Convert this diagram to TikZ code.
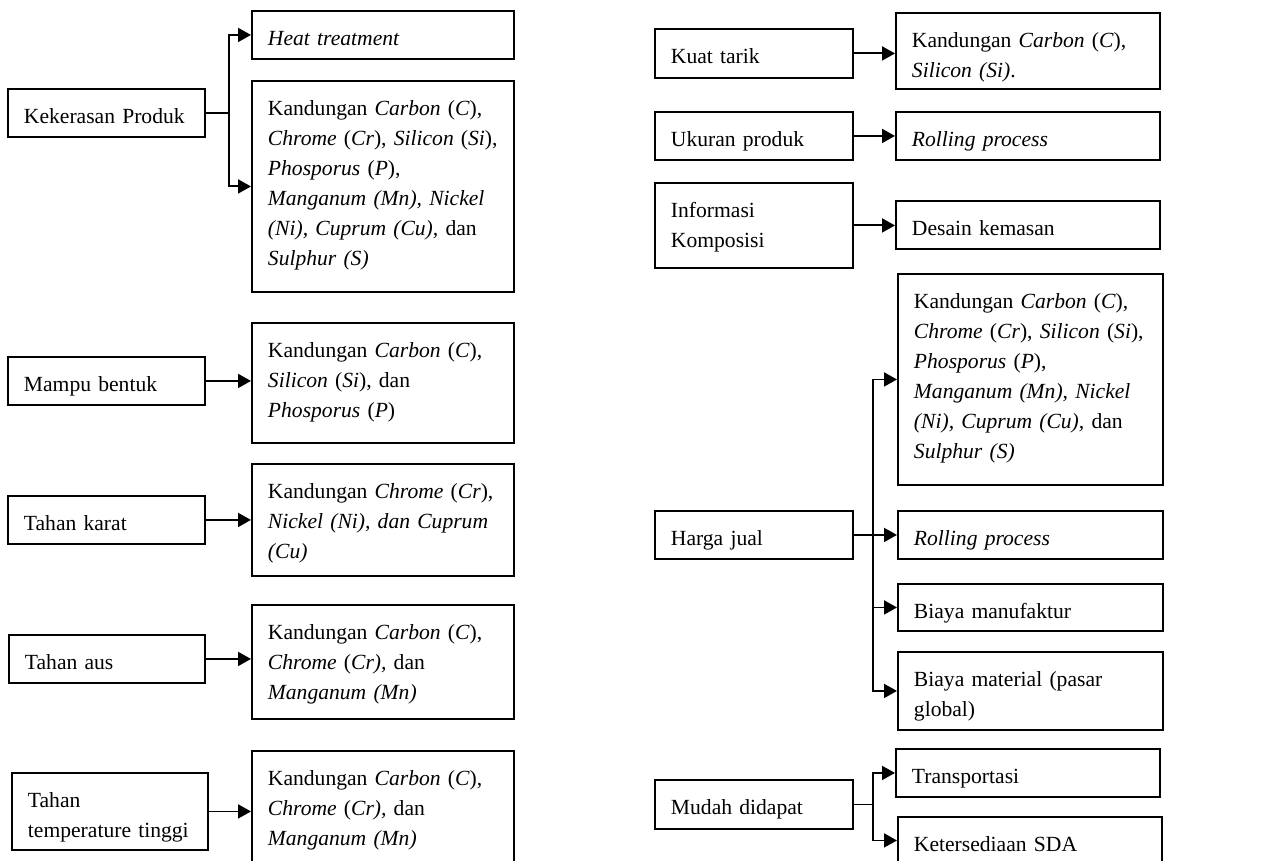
\documentclass[tikz,border=0pt]{standalone}
\usepackage{fontspec}
\setmainfont{Liberation Serif}
\usepackage{tikz}
\usetikzlibrary{arrows.meta,positioning}
\tikzset{
  box/.style  = {draw=black, line width=1.9pt, anchor=north west,
                 inner xsep=16pt, inner ysep=0pt, align=left,
                 text height=35pt, text depth=13pt,
                 font=\fontsize{21.6pt}{30pt}\selectfont},
  sbox/.style = {box, text width=165pt},
  tbox/.style = {box, text width=230pt},
  rbox/.style = {box, text width=233pt},
  arr/.style  = {-{Triangle[length=13pt,width=14pt]}, line width=1.9pt},
  link/.style = {line width=1.9pt},
}

\begin{document}
\begin{tikzpicture}[x=1pt, y=-1pt]
\useasboundingbox (0,0) rectangle (1277,861);

%% ── Left column: properties ───────────────────────────────
\node[sbox] (kek) at (7,88)   {Kekerasan Produk};
\node[sbox] (mb)  at (7,356)  {Mampu bentuk};
\node[sbox] (tk)  at (7,495)  {Tahan karat};
\node[sbox, text width=164pt] (ta) at (8,634) {Tahan aus};
\node[sbox, text width=164pt, text depth=42pt] (tt) at (11,772)
  {Tahan\\temperature tinggi};

%% ── Left column: factors ──────────────────────────────────
\node[tbox] (heat) at (251,10) {\textit{Heat treatment}};
\node[tbox, text depth=176pt] (kekc) at (251,80)
  {Kandungan \textit{Carbon} (\textit{C}),\\
   \textit{Chrome} (\textit{Cr}), \textit{Silicon} (\textit{Si}),\\
   \textit{Phosporus} (\textit{P}),\\
   \textit{Manganum (Mn), Nickel}\\
   \textit{(Ni), Cuprum (Cu),} dan\\
   \textit{Sulphur (S)}};
\node[tbox, text depth=85pt] (mbt) at (251,322)
  {Kandungan \textit{Carbon} (\textit{C}),\\
   \textit{Silicon} (\textit{Si}), dan\\
   \textit{Phosporus} (\textit{P})};
\node[tbox, text depth=77pt] (tkt) at (251,463)
  {Kandungan \textit{Chrome} (\textit{Cr}),\\
   \textit{Nickel (Ni), dan Cuprum}\\
   \textit{(Cu)}};
\node[tbox, text depth=79pt] (tat) at (251,604)
  {Kandungan \textit{Carbon} (\textit{C}),\\
   \textit{Chrome} (\textit{Cr),} dan\\
   \textit{Manganum (Mn)}};
\node[tbox, text depth=95pt] (ttt) at (251,750)
  {Kandungan \textit{Carbon} (\textit{C}),\\
   \textit{Chrome} (\textit{Cr),} dan\\
   \textit{Manganum (Mn)}};

%% ── Right column: properties ──────────────────────────────
\node[sbox, text width=166pt, text depth=14pt] (kt) at (654,28) {Kuat tarik};
\node[sbox, text width=166pt] (up) at (654,111) {Ukuran produk};
\node[sbox, text width=166pt, text depth=50pt] (ik) at (654,182)
  {Informasi\\Komposisi};
\node[sbox, text width=166pt] (hj) at (654,510) {Harga jual};
\node[sbox, text width=166pt, text depth=14pt] (md) at (654,779) {Mudah didapat};

%% ── Right column: factors ─────────────────────────────────
\node[rbox, text width=232pt, text depth=41pt] (ktt) at (895,12)
  {Kandungan \textit{Carbon} (\textit{C}),\\
   \textit{Silicon (Si)}.};
\node[rbox, text width=232pt] (upt) at (895,111) {\textit{Rolling process}};
\node[rbox, text width=232pt] (ikt) at (895,200) {Desain kemasan};
\node[rbox, text depth=176pt] (hjc) at (897,273)
  {Kandungan \textit{Carbon} (\textit{C}),\\
   \textit{Chrome} (\textit{Cr}), \textit{Silicon} (\textit{Si}),\\
   \textit{Phosporus} (\textit{P}),\\
   \textit{Manganum (Mn), Nickel}\\
   \textit{(Ni), Cuprum (Cu),} dan\\
   \textit{Sulphur (S)}};
\node[rbox] (hjr) at (897,510) {\textit{Rolling process}};
\node[rbox, text depth=12pt] (hjm) at (897,583) {Biaya manufaktur};
\node[rbox, text depth=43pt] (hjb) at (897,651)
  {Biaya material (pasar\\global)};
\node[rbox, text width=232pt] (mdt) at (895,748) {Transportasi};
\node[rbox, text width=232pt, text depth=12pt] (mds) at (897,816) {Ketersediaan SDA};

%% ── Arrows: left column ───────────────────────────────────
\draw[link] (kek.east) -- ++(23,0) coordinate (kekj);
\draw[arr] (kekj) |- (heat.west);
\draw[arr] (kekj) |- (kekc.west);
\draw[arr] (mb.east) -- (mb.east -| mbt.west);
\draw[arr] (tk.east) -- (tk.east -| tkt.west);
\draw[arr] (ta.east) -- (ta.east -| tat.west);
\draw[arr] (tt.east) -- (tt.east -| ttt.west);

%% ── Arrows: right column ──────────────────────────────────
\draw[arr] (kt.east) -- (kt.east -| ktt.west);
\draw[arr] (up.east) -- (upt.west);
\draw[arr] (ik.east) -- (ik.east -| ikt.west);
\draw[link] (hj.east) -- ++(19,0) coordinate (hjj);
\draw[arr] (hjj) |- (hjc.west);
\draw[arr] (hjj) |- (hjr.west);
\draw[arr] (hjj) |- (hjm.west);
\draw[arr] (hjj) |- (hjb.west);
\draw[link] (md.east) -- ++(19,0) coordinate (mdj);
\draw[arr] (mdj) |- (mdt.west);
\draw[arr] (mdj) |- (mds.west);

\end{tikzpicture}
\end{document}
